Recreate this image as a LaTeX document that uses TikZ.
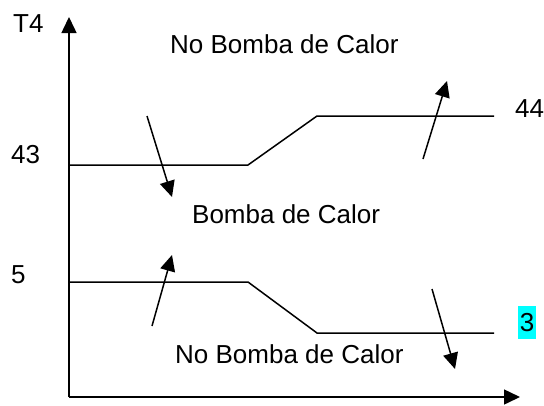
\documentclass[tikz,border=0pt]{standalone}
\usepackage{fontspec}
\setmainfont{Liberation Sans}
\usetikzlibrary{arrows.meta}
\definecolor{hlcyan}{RGB}{0,255,255}
\begin{document}
\begin{tikzpicture}[x=1pt,y=-1pt,
  lbl/.style={anchor=base west,inner sep=0pt,font=\fontsize{26}{30}\selectfont},
  curve/.style={line width=1.5pt},
  arr/.style={line width=1.5pt,-{Triangle[length=16pt,width=15pt]}}]
\useasboundingbox (0,0) rectangle (544,405);
% axes
\coordinate (O) at (69,397);
\coordinate (Ytop) at (69,17);
\coordinate (Xend) at (520,397);
\draw[arr] (O) -- (Ytop);
\draw[arr] (O) -- (Xend);
% upper curve
\coordinate (u1) at (69,165);
\coordinate (u2) at (248,165);
\coordinate (u3) at (317,116);
\coordinate (u4) at (494,116);
\draw[curve] (u1) -- (u2) -- (u3) -- (u4);
% lower curve
\coordinate (l1) at (69,282);
\coordinate (l2) at (248,282);
\coordinate (l3) at (317,333);
\coordinate (l4) at (494,333);
\draw[curve] (l1) -- (l2) -- (l3) -- (l4);
% arrows
\coordinate (a1s) at (147,116); \coordinate (a1e) at (172,197);
\coordinate (a2s) at (423,159); \coordinate (a2e) at (447,81);
\coordinate (a3s) at (152,326); \coordinate (a3e) at (172,255);
\coordinate (a4s) at (432,289); \coordinate (a4e) at (455,369);
\draw[arr] (a1s) -- (a1e);
\draw[arr] (a2s) -- (a2e);
\draw[arr] (a3s) -- (a3e);
\draw[arr] (a4s) -- (a4e);
% labels
\node[lbl] (t4) at (13,32) {T4};
\node[lbl] (top) at (170,53) {No Bomba de Calor};
\node[lbl] (mid) at (192,223) {Bomba de Calor};
\node[lbl] (bot) at (175,363) {No Bomba de Calor};
\node[lbl] (v43) at (11,163) {43};
\node[lbl] (v44) at (515,117) {44};
\node[lbl] (v5) at (11,283) {5};
\node[fill=hlcyan,inner xsep=1.5pt,inner ysep=0pt,minimum height=33pt,font=\fontsize{26}{30}\selectfont] (v3) at (527,322.5) {3};
\end{tikzpicture}
\end{document}
